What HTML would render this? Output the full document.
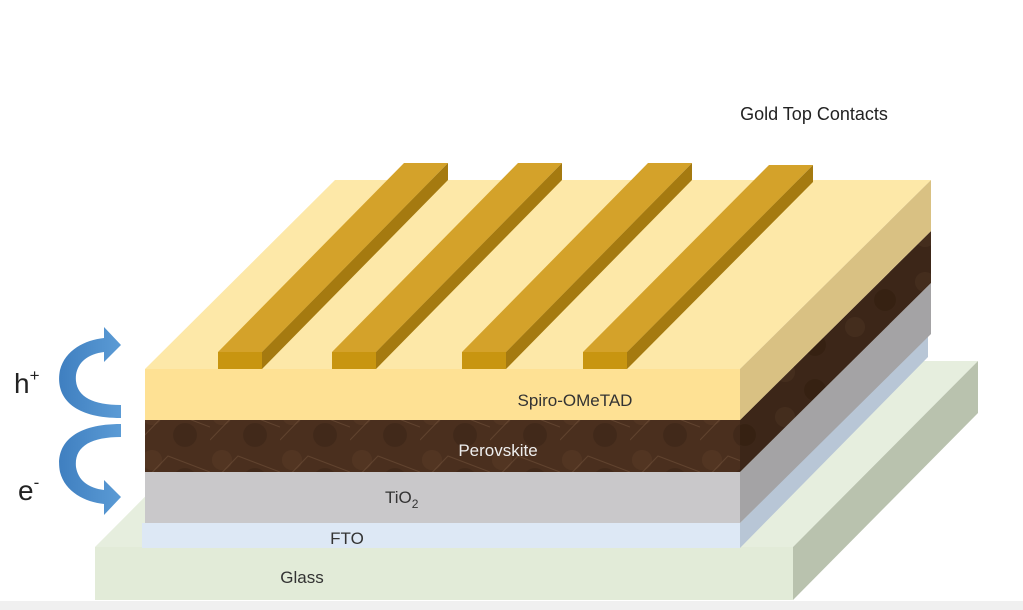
<!DOCTYPE html>
<html><head><meta charset="utf-8"><style>
html,body{margin:0;padding:0;background:#fff;}
svg{display:block}
text{font-family:"Liberation Sans",sans-serif;}
</style></head><body>
<svg width="1023" height="610" viewBox="0 0 1023 610" xmlns="http://www.w3.org/2000/svg">
<defs>
<pattern id="pv" width="70" height="45" patternUnits="userSpaceOnUse">
<rect width="70" height="45" fill="#4a2f1e"/>
<circle cx="12" cy="10" r="10" fill="#553724" opacity="0.7"/>
<circle cx="45" cy="30" r="12" fill="#3e2718" opacity="0.7"/>
<path d="M0 35 L28 6 L70 22" stroke="#75563d" stroke-width="1" fill="none" opacity="0.5"/>
</pattern>
<pattern id="pvs" width="70" height="45" patternUnits="userSpaceOnUse">
<rect width="70" height="45" fill="#3c2618"/>
<circle cx="15" cy="12" r="10" fill="#47301f" opacity="0.7"/>
<circle cx="45" cy="30" r="11" fill="#33200f" opacity="0.7"/>
</pattern>
<linearGradient id="ag" x1="0" y1="0" x2="1" y2="0">
<stop offset="0" stop-color="#3f7fc0"/><stop offset="1" stop-color="#5b9bd5"/>
</linearGradient>
</defs>
<rect width="1023" height="610" fill="#fff"/>
<rect x="0" y="601" width="1023" height="9" fill="#f0f0f0"/>
<!-- Glass -->
<polygon points="95,547 280,361 978,361 793,547" fill="#e6eede"/>
<polygon points="793,547 978,361 978,413 793,600" fill="#b9c2ae"/>
<rect x="95" y="547" width="698" height="53" fill="#e2ebd8"/>
<!-- FTO -->
<polygon points="740,523 928,334 928,357 740,548" fill="#b8c6d6"/>
<rect x="142" y="523" width="598" height="25" fill="#dde8f5"/>
<!-- TiO2 -->
<polygon points="740,472 931,283 931,334 740,523" fill="#a4a3a5"/>
<rect x="145" y="472" width="595" height="51" fill="#c9c8ca"/>
<!-- Perovskite -->
<polygon points="740,420 931,231 931,283 740,472" fill="url(#pvs)"/>
<rect x="145" y="420" width="595" height="52" fill="url(#pv)"/>
<!-- Spiro -->
<polygon points="145,369 335,180 931,180 740,369" fill="#fde8a8"/>
<polygon points="740,369 931,180 931,231 740,420" fill="#d9c183"/>
<rect x="145" y="369" width="595" height="51" fill="#fee194"/>
<!-- Gold bars -->
<g>
<polygon points="218,352 262,352 448,163 404,163" fill="#d4a22a"/>
<polygon points="262,352 262,369 448,180 448,163" fill="#a57a10"/>
<rect x="218" y="352" width="44" height="17" fill="#c89510"/>
</g>
<g>
<polygon points="332,352 376,352 562,163 518,163" fill="#d4a22a"/>
<polygon points="376,352 376,369 562,180 562,163" fill="#a57a10"/>
<rect x="332" y="352" width="44" height="17" fill="#c89510"/>
</g>
<g>
<polygon points="462,352 506,352 692,163 648,163" fill="#d4a22a"/>
<polygon points="506,352 506,369 692,180 692,163" fill="#a57a10"/>
<rect x="462" y="352" width="44" height="17" fill="#c89510"/>
</g>
<g>
<polygon points="583,352 627,352 813,165 769,165" fill="#d4a22a"/>
<polygon points="627,352 627,369 813,182 813,165" fill="#a57a10"/>
<rect x="583" y="352" width="44" height="17" fill="#c89510"/>
</g>
<!-- Arrows -->
<path d="M121,418 C70,418 55,395 60,370 C65,350 85,340 104,338 L104,327 L121,345 L104,362 L104,352 C88,354 78,362 76,375 C74,395 90,405 121,405 Z" fill="url(#ag)"/>
<path d="M121,424 C70,424 55,447 60,472 C65,492 85,502 104,504 L104,515 L121,497 L104,480 L104,490 C88,488 78,480 76,467 C74,447 90,437 121,437 Z" fill="url(#ag)"/>
<!-- Labels -->
<text x="814" y="120" font-size="18" text-anchor="middle" fill="#222">Gold Top Contacts</text>
<text x="575" y="406" font-size="17" text-anchor="middle" fill="#333">Spiro-OMeTAD</text>
<text x="498" y="456" font-size="17" text-anchor="middle" fill="#eee">Perovskite</text>
<text x="385" y="503" font-size="17" fill="#333">TiO<tspan font-size="12" dy="5">2</tspan></text>
<text x="347" y="544" font-size="17" text-anchor="middle" fill="#333">FTO</text>
<text x="302" y="583" font-size="17" text-anchor="middle" fill="#333">Glass</text>
<text x="14" y="393" font-size="28" fill="#222">h<tspan font-size="17" dy="-12">+</tspan></text>
<text x="18" y="500" font-size="28" fill="#222">e<tspan font-size="17" dy="-12">-</tspan></text>
</svg>
</body></html>
